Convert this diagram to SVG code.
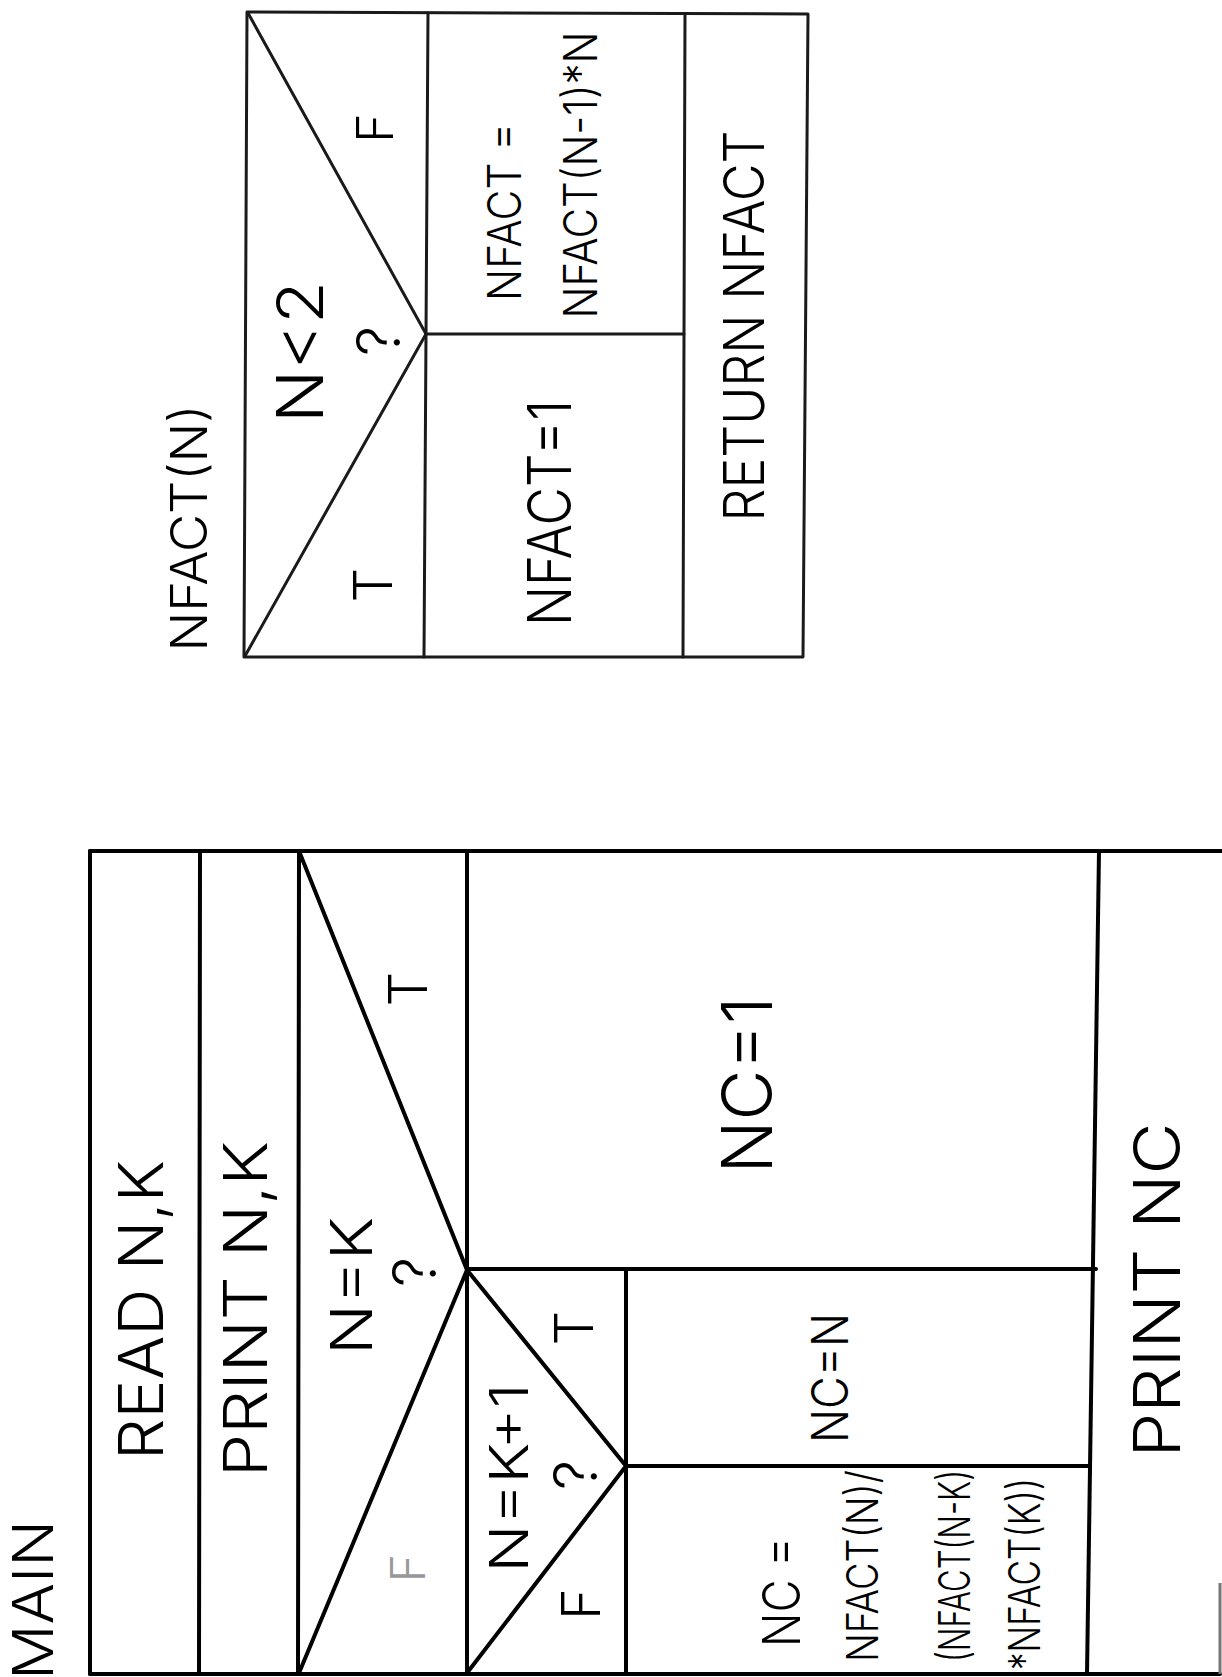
<svg xmlns="http://www.w3.org/2000/svg" width="1222" height="1677" viewBox="0 0 1222 1677">
<style>
.ln{stroke:#000;stroke-width:4;fill:none;stroke-linecap:round;stroke-linejoin:round}
.lg{stroke:#1a1a1a;stroke-width:3;fill:none;stroke-linecap:round;stroke-linejoin:round}
.t{font-family:"Inter","Open Sans","Liberation Sans",sans-serif;fill:#000;text-anchor:middle;font-weight:300}
.faint{fill:#999}
</style>
<rect width="1222" height="1677" fill="#fff"/>

<g id="nfact">
  <text class="t" transform="translate(207,528) rotate(-90)" font-size="50" textLength="247" lengthAdjust="spacingAndGlyphs">NFACT(N)</text>
  <g id="nfact-frame">
    <path class="lg" d="M247,12 L808,14 L803,657 L244,657 Z"/>
    <line class="lg" x1="428" y1="13" x2="424" y2="657"/>
    <line class="lg" x1="685" y1="14" x2="683" y2="657"/>
    <line class="lg" x1="426" y1="334" x2="684" y2="334"/>
  </g>
  <g id="nfact-decision">
    <polyline class="lg" points="248,13 426,334 245,656"/>
    <text class="t" transform="translate(323,352) rotate(-90)" font-size="64" textLength="142" lengthAdjust="spacingAndGlyphs">N&lt;2</text>
    <text class="t" transform="translate(400,341) rotate(-90)" font-size="60">?</text>
    <text class="t" transform="translate(393,128) rotate(-90)" font-size="50">F</text>
    <text class="t" transform="translate(392,585) rotate(-90)" font-size="54">T</text>
  </g>
  <g id="nfact-else">
    <text class="t" transform="translate(521,212) rotate(-90)" font-size="46" textLength="178" lengthAdjust="spacingAndGlyphs">NFACT =</text>
    <text class="t" transform="translate(597,175) rotate(-90)" font-size="46" textLength="287" lengthAdjust="spacingAndGlyphs">NFACT(N-1)*N</text>
  </g>
  <g id="nfact-then">
    <text class="t" transform="translate(571,513) rotate(-90)" font-size="60" textLength="226" lengthAdjust="spacingAndGlyphs">NFACT=1</text>
  </g>
  <g id="nfact-return">
    <text class="t" transform="translate(764,326) rotate(-90)" font-size="56" textLength="391" lengthAdjust="spacingAndGlyphs">RETURN NFACT</text>
  </g>
</g>

<g id="main">
  <text class="t" transform="translate(53,1600) rotate(-90)" font-size="56" textLength="160" lengthAdjust="spacingAndGlyphs">MAIN</text>
  <g id="main-frame">
    <line class="ln" x1="90" y1="851" x2="1222" y2="851"/>
    <line class="ln" x1="90" y1="1674" x2="1220" y2="1674"/>
    <line class="ln" x1="90" y1="851" x2="90" y2="1674"/>
    <line class="ln" x1="200" y1="851" x2="199" y2="1674"/>
    <line class="ln" x1="299" y1="851" x2="298" y2="1674"/>
    <line class="ln" x1="467" y1="851" x2="467" y2="1674"/>
    <line class="ln" x1="1099" y1="851" x2="1087" y2="1674"/>
    <line class="ln" x1="467" y1="1269" x2="1096" y2="1269"/>
    <line class="ln" x1="626" y1="1269" x2="626" y2="1674"/>
    <line class="ln" x1="626" y1="1466" x2="1090" y2="1466"/>
    <line stroke="#777" stroke-width="3" x1="1220" y1="1583" x2="1220" y2="1674"/>
  </g>
  <g id="read">
    <text class="t" transform="translate(163,1310) rotate(-90)" font-size="62" textLength="300" lengthAdjust="spacingAndGlyphs">READ N,K</text>
  </g>
  <g id="print-nk">
    <text class="t" transform="translate(267,1309) rotate(-90)" font-size="60" textLength="336" lengthAdjust="spacingAndGlyphs">PRINT N,K</text>
  </g>
  <g id="decision-n-eq-k">
    <polyline class="ln" points="299,851 467,1270 299,1673"/>
    <text class="t" transform="translate(372,1286) rotate(-90)" font-size="57" textLength="138" lengthAdjust="spacingAndGlyphs">N=K</text>
    <text class="t" transform="translate(436,1272) rotate(-90)" font-size="60">?</text>
    <text class="t" transform="translate(427,989) rotate(-90)" font-size="54">T</text>
    <text class="t faint" transform="translate(425,1568) rotate(-90)" font-size="48">F</text>
  </g>
  <g id="nc-1">
    <text class="t" transform="translate(772,1085) rotate(-90)" font-size="70" textLength="177" lengthAdjust="spacingAndGlyphs">NC=1</text>
  </g>
  <g id="decision-n-eq-k1">
    <polyline class="ln" points="467,1270 626,1466 467,1673"/>
    <text class="t" transform="translate(528,1478) rotate(-90)" font-size="53" textLength="189" lengthAdjust="spacingAndGlyphs">N=K+1</text>
    <text class="t" transform="translate(597,1475) rotate(-90)" font-size="60">?</text>
    <text class="t" transform="translate(593,1328) rotate(-90)" font-size="54">T</text>
    <text class="t" transform="translate(600,1604) rotate(-90)" font-size="54">F</text>
  </g>
  <g id="nc-n">
    <text class="t" transform="translate(848,1378) rotate(-90)" font-size="50" textLength="130" lengthAdjust="spacingAndGlyphs">NC=N</text>
  </g>
  <g id="nc-formula">
    <text class="t" transform="translate(800,1592) rotate(-90)" font-size="52" textLength="110" lengthAdjust="spacingAndGlyphs">NC =</text>
    <text class="t" transform="translate(878,1566) rotate(-90)" font-size="44" textLength="192" lengthAdjust="spacingAndGlyphs">NFACT(N)/</text>
    <text class="t" transform="translate(970,1566) rotate(-90)" font-size="44" textLength="192" lengthAdjust="spacingAndGlyphs">(NFACT(N-K)</text>
    <text class="t" transform="translate(1040,1574) rotate(-90)" font-size="44" textLength="192" lengthAdjust="spacingAndGlyphs">*NFACT(K))</text>
  </g>
  <g id="print-nc">
    <text class="t" transform="translate(1180,1290) rotate(-90)" font-size="65" textLength="335" lengthAdjust="spacingAndGlyphs">PRINT NC</text>
  </g>
</g>

<g id="connectors"></g>
</svg>
